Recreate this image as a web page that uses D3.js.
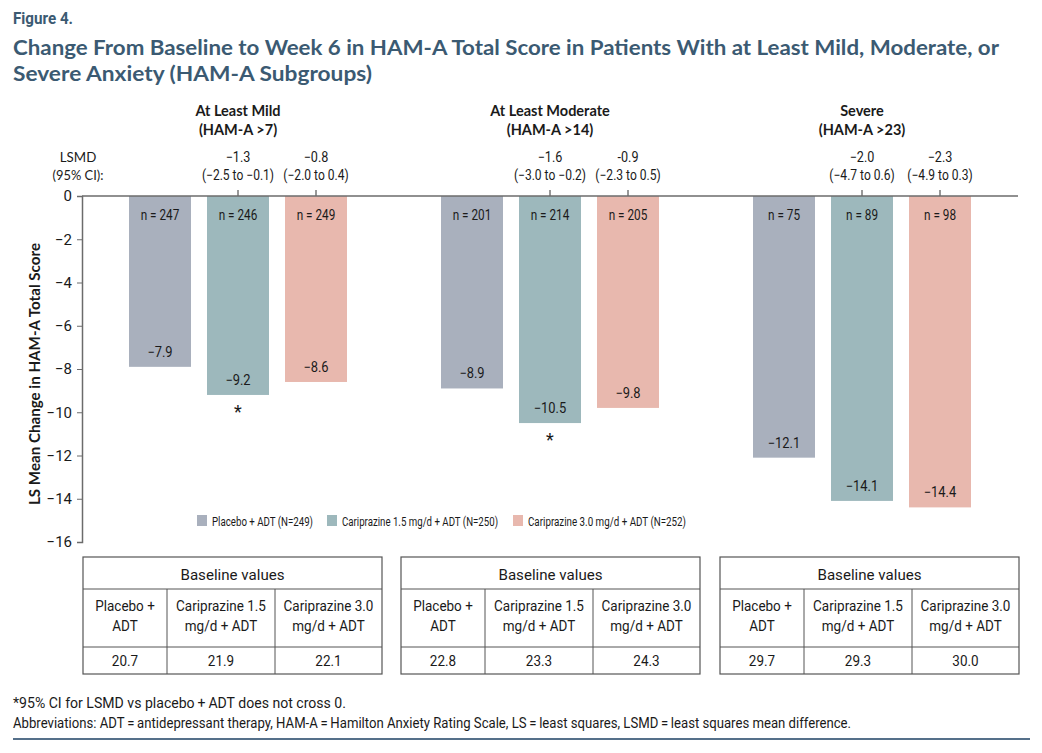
<!DOCTYPE html>
<html>
<head>
<meta charset="utf-8">
<script src="https://cdn.jsdelivr.net/npm/d3@7"></script>
<style>
  html, body { margin: 0; padding: 0; background: #fff; }
  svg { display: block; font-family: Lato, "Open Sans", Roboto, sans-serif; }
</style>
</head>
<body>
<svg id="chart" width="1042" height="753"></svg>
<script>
// ---------- data ----------
const groups = ["At Least Mild", "At Least Moderate", "Severe"];
const groupSub = ["(HAM-A >7)", "(HAM-A >14)", "(HAM-A >23)"];
const seriesKeys = ["placebo", "cari15", "cari30"];
const seriesNames = ["Placebo + ADT (N=249)", "Cariprazine 1.5 mg/d + ADT (N=250)", "Cariprazine 3.0 mg/d + ADT (N=252)"];
const placebo = [-7.9, -8.9, -12.1];
const cari15 = [-9.2, -10.5, -14.1];
const cari30 = [-8.6, -9.8, -14.4];
const nPlacebo = [247, 201, 75];
const nCari15 = [246, 214, 89];
const nCari30 = [249, 205, 98];
const lsmd15 = ["\u22121.3", "\u22121.6", "\u22122.0"];
const ci15 = ["(\u22122.5 to \u22120.1)", "(\u22123.0 to \u22120.2)", "(\u22124.7 to 0.6)"];
const lsmd30 = ["\u22120.8", "-0.9", "\u22122.3"];
const ci30 = ["(\u22122.0 to 0.4)", "(\u22122.3 to 0.5)", "(\u22124.9 to 0.3)"];
const sig15 = [true, true, false];
const sig30 = [false, false, false];
const baselinePlacebo = ["20.7", "22.8", "29.7"];
const baselineCari15 = ["21.9", "23.3", "29.3"];
const baselineCari30 = ["22.1", "24.3", "30.0"];
const tableHeaders = [["Placebo +", "ADT"], ["Cariprazine 1.5", "mg/d + ADT"], ["Cariprazine 3.0", "mg/d + ADT"]];
const yTicks = [0, -2, -4, -6, -8, -10, -12, -14, -16];

const values = { placebo, cari15, cari30 };
const nVals = { placebo: nPlacebo, cari15: nCari15, cari30: nCari30 };
const colors = { placebo: "#a9b0bd", cari15: "#9db8bc", cari30: "#e8b8ae" };

// ---------- layout ----------
const svg = d3.select("#chart");
const titleColor = "#3b5a72";
const textColor = "#1a1a1a";
const axisColor = "#6b6b6b";
const numFont = "Roboto, Lato, sans-serif";
const narrowFont = "'Liberation Sans Narrow', Roboto, sans-serif";

const x0 = d3.scaleBand().domain(d3.range(3)).range([82, 1018]).paddingInner(0).paddingOuter(0);
const x1 = d3.scaleBand().domain(seriesKeys).range([0, x0.bandwidth()]).paddingInner(0.205).paddingOuter(0.6025);
const y = d3.scaleLinear().domain([0, -16]).range([196, 542]);

function fit(sel, w) {
  sel.attr("textLength", w).attr("lengthAdjust", "spacingAndGlyphs");
}
function cond(sel, f) {
  sel.each(function () {
    const w = this.getComputedTextLength();
    d3.select(this).attr("textLength", w * f).attr("lengthAdjust", "spacingAndGlyphs");
  });
}

// ---------- titles ----------
svg.append("text").attr("x", 13).attr("y", 24)
  .attr("fill", titleColor).attr("font-weight", 700).attr("font-size", 17)
  .style("font-family", narrowFont)
  .text("Figure 4.").call(fit, 60);
svg.append("text").attr("x", 13).attr("y", 55)
  .attr("fill", titleColor).attr("font-weight", 700).attr("font-size", 21.5)
  .text("Change From Baseline to Week 6 in HAM-A Total Score in Patients With at Least Mild, Moderate, or").call(fit, 986);
svg.append("text").attr("x", 13).attr("y", 81)
  .attr("fill", titleColor).attr("font-weight", 700).attr("font-size", 21.5)
  .text("Severe Anxiety (HAM-A Subgroups)").call(fit, 359);

// ---------- group titles and LSMD ----------
const gHead = svg.append("g").attr("fill", textColor);
groups.forEach((g, i) => {
  const cx = x0(i) + x0.bandwidth() / 2;
  gHead.append("text").attr("x", cx).attr("y", 116).attr("text-anchor", "middle")
    .attr("font-weight", 700).attr("font-size", 14.5).text(g);
  gHead.append("text").attr("x", cx).attr("y", 135).attr("text-anchor", "middle")
    .attr("font-weight", 700).attr("font-size", 14.5).text(groupSub[i]);
  const c15 = x0(i) + x1("cari15") + x1.bandwidth() / 2;
  const c30 = x0(i) + x1("cari30") + x1.bandwidth() / 2;
  gHead.append("text").attr("x", c15).attr("y", 162).attr("text-anchor", "middle").attr("font-size", 14).style("font-family", numFont).text(lsmd15[i]).call(cond, 0.9);
  gHead.append("text").attr("x", c15).attr("y", 180).attr("text-anchor", "middle").attr("font-size", 14).style("font-family", numFont).text(ci15[i]).call(cond, 0.86);
  gHead.append("text").attr("x", c30).attr("y", 162).attr("text-anchor", "middle").attr("font-size", 14).style("font-family", numFont).text(lsmd30[i]).call(cond, 0.9);
  gHead.append("text").attr("x", c30).attr("y", 180).attr("text-anchor", "middle").attr("font-size", 14).style("font-family", numFont).text(ci30[i]).call(cond, 0.86);
});
gHead.append("text").attr("x", 78).attr("y", 162).attr("text-anchor", "middle").attr("font-size", 14).text("LSMD").call(cond, 0.95);
gHead.append("text").attr("x", 78).attr("y", 180).attr("text-anchor", "middle").attr("font-size", 14).text("(95% CI):").call(cond, 0.92);

// ---------- bars ----------
const gBars = svg.append("g");
groups.forEach((g, i) => {
  seriesKeys.forEach(k => {
    const v = values[k][i];
    const bx = x0(i) + x1(k);
    const bw = x1.bandwidth();
    gBars.append("rect").attr("x", bx).attr("y", y(0)).attr("width", bw)
      .attr("height", y(v) - y(0)).attr("fill", colors[k]);
    gBars.append("text").attr("x", bx + bw / 2).attr("y", y(0) + 24).attr("text-anchor", "middle")
      .attr("font-size", 14).attr("fill", textColor).style("font-family", numFont)
      .text("n = " + nVals[k][i]).call(cond, 0.84);
    gBars.append("text").attr("x", bx + bw / 2).attr("y", y(v) - 10).attr("text-anchor", "middle")
      .attr("font-size", 14).attr("fill", textColor).style("font-family", numFont)
      .text("\u2212" + Math.abs(v).toFixed(1)).call(cond, 0.92);
  });
  if (sig15[i]) {
    const bx = x0(i) + x1("cari15") + x1.bandwidth() / 2;
    gBars.append("text").attr("x", bx).attr("y", y(cari15[i]) + 23).attr("text-anchor", "middle")
      .attr("font-size", 18).attr("fill", textColor).style("font-family", numFont).text("*");
  }
  if (sig30[i]) {
    const bx = x0(i) + x1("cari30") + x1.bandwidth() / 2;
    gBars.append("text").attr("x", bx).attr("y", y(cari30[i]) + 23).attr("text-anchor", "middle")
      .attr("font-size", 18).attr("fill", textColor).style("font-family", numFont).text("*");
  }
  // small tick marks above baseline at active-arm centers
  ["cari15", "cari30"].forEach(k => {
    const cx = x0(i) + x1(k) + x1.bandwidth() / 2;
    gBars.append("line").attr("x1", cx).attr("x2", cx).attr("y1", y(0) - 6).attr("y2", y(0))
      .attr("stroke", "#333").attr("stroke-width", 1);
  });
});

// zero line
svg.append("line").attr("x1", 82).attr("x2", 1018).attr("y1", y(0)).attr("y2", y(0))
  .attr("stroke", axisColor).attr("stroke-width", 1.5);

// ---------- y axis ----------
const yAxis = d3.axisLeft(y).tickValues(yTicks).tickSize(5).tickPadding(5)
  .tickFormat(d => d === 0 ? "0" : "\u2212" + Math.abs(d));
const gy = svg.append("g").attr("transform", "translate(82,0)").call(yAxis);
gy.select(".domain").attr("stroke", axisColor).attr("stroke-width", 1.5);
gy.selectAll(".tick line").attr("stroke", axisColor);
gy.selectAll(".tick text").attr("font-size", 15).attr("fill", textColor)
  .style("font-family", numFont);

svg.append("text").attr("transform", "translate(40,374) rotate(-90)")
  .attr("text-anchor", "middle").attr("font-weight", 700).attr("font-size", 15)
  .attr("fill", textColor).text("LS Mean Change in HAM-A Total Score").call(fit, 262);

// ---------- legend ----------
const legendX = [197, 327, 513];
const legendW = [101, 156, 158];
const gLeg = svg.append("g");
seriesKeys.forEach((k, j) => {
  gLeg.append("rect").attr("x", legendX[j]).attr("y", 515).attr("width", 10).attr("height", 11).attr("fill", colors[k]);
  gLeg.append("text").attr("x", legendX[j] + 15).attr("y", 525.5).attr("font-size", 12)
    .attr("fill", textColor).style("font-family", narrowFont).text(seriesNames[j]).call(fit, legendW[j]);
});

// ---------- baseline tables ----------
const tableX = [83, 401, 720];
const colW = [84, 108, 107];
const rowY = [557, 589, 647, 674];
const baseVals = [baselinePlacebo, baselineCari15, baselineCari30];
const gTab = svg.append("g");
tableX.forEach((tx, i) => {
  const tw = d3.sum(colW);
  gTab.append("rect").attr("x", tx).attr("y", rowY[0]).attr("width", tw).attr("height", rowY[3] - rowY[0])
    .attr("fill", "none").attr("stroke", "#555").attr("stroke-width", 1.2);
  gTab.append("line").attr("x1", tx).attr("x2", tx + tw).attr("y1", rowY[1]).attr("y2", rowY[1]).attr("stroke", "#555");
  gTab.append("line").attr("x1", tx).attr("x2", tx + tw).attr("y1", rowY[2]).attr("y2", rowY[2]).attr("stroke", "#555");
  let cx = tx;
  colW.forEach((w, c) => {
    if (c > 0) gTab.append("line").attr("x1", cx).attr("x2", cx).attr("y1", rowY[1]).attr("y2", rowY[3]).attr("stroke", "#555");
    const mid = cx + w / 2;
    gTab.append("text").attr("x", mid).attr("y", 611).attr("text-anchor", "middle").attr("font-size", 14.5)
      .attr("fill", textColor).style("font-family", numFont).text(tableHeaders[c][0]).call(cond, 0.93);
    gTab.append("text").attr("x", mid).attr("y", 631).attr("text-anchor", "middle").attr("font-size", 14.5)
      .attr("fill", textColor).style("font-family", numFont).text(tableHeaders[c][1]).call(cond, 0.93);
    gTab.append("text").attr("x", mid).attr("y", 666).attr("text-anchor", "middle").attr("font-size", 14.5)
      .attr("fill", textColor).style("font-family", numFont).text(baseVals[c][i]).call(cond, 0.93);
    cx += w;
  });
  gTab.append("text").attr("x", tx + tw / 2).attr("y", 580).attr("text-anchor", "middle").attr("font-size", 15)
    .attr("fill", textColor).style("font-family", numFont).text("Baseline values").call(fit, 104);
});

// ---------- footnotes ----------
svg.append("text").attr("x", 13).attr("y", 708).attr("font-size", 14).attr("fill", textColor)
  .style("font-family", narrowFont)
  .text("*95% CI for LSMD vs placebo\u2009+\u2009ADT does not cross 0.").call(fit, 333);
svg.append("text").attr("x", 13).attr("y", 728).attr("font-size", 14).attr("fill", textColor)
  .style("font-family", narrowFont)
  .text("Abbreviations: ADT\u2009=\u2009antidepressant therapy, HAM-A\u2009=\u2009Hamilton Anxiety Rating Scale, LS\u2009=\u2009least squares, LSMD\u2009=\u2009least squares mean difference.").call(fit, 838);
svg.append("line").attr("x1", 13).attr("x2", 1030).attr("y1", 739).attr("y2", 739)
  .attr("stroke", "#55708a").attr("stroke-width", 2);
</script>
</body>
</html>
